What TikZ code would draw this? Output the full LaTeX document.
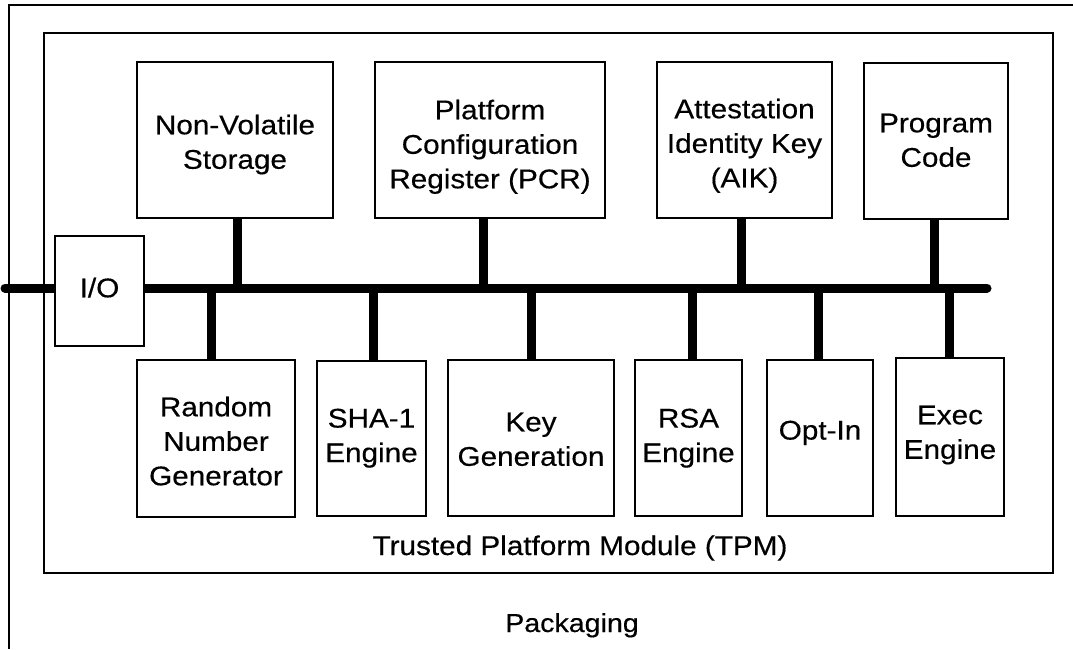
\documentclass[tikz,border=0pt]{standalone}
\usepackage{fontspec}
\setmainfont{Liberation Sans}[FakeStretch=1.1,FakeBold=0.4]
\usetikzlibrary{fit}
\begin{document}
\begin{tikzpicture}[x=1pt,y=-1pt,
  blk/.style={draw, line width=1.5pt, fill=white, inner sep=0pt},
  txt/.style={inner sep=0pt, align=center, anchor=north,
              font=\fontsize{27}{34.5}\selectfont},
  busline/.style={line width=9pt},
  lbl/.style={font=\fontsize{27}{34.5}\selectfont, inner sep=0pt, anchor=base}]
\useasboundingbox (0,0) rectangle (1073,649);
% packaging frame
\coordinate (pkgBL) at (9,649);
\coordinate (pkgTL) at (9,5);
\coordinate (pkgTR) at (1073,5);
\draw[line width=1.5pt] (pkgBL) -- (pkgTL) -- (pkgTR);
% TPM box
\node[draw, line width=1.3pt, inner sep=0pt, fit={(44,33) (1053,573)}] (tpm) {};
% bus
\coordinate (busL) at (5,288);
\coordinate (busR) at (987,288);
\draw[busline, line cap=round] (busL) -- (busR);
% connector points on bus
\coordinate (cNV)  at (237,288);
\coordinate (cPCR) at (483,288);
\coordinate (cAIK) at (741,288);
\coordinate (cPC)  at (934,288);
\coordinate (cRNG) at (211,288);
\coordinate (cSHA) at (373,288);
\coordinate (cKG)  at (531,288);
\coordinate (cRSA) at (692,288);
\coordinate (cOI)  at (818,288);
\coordinate (cEX)  at (949,288);
% top boxes
\node[blk, fit={(137,62) (333,218)}] (nv) {};
\node[blk, fit={(375,62) (605,218)}] (pcr) {};
\node[blk, fit={(657,62) (832,218)}] (aik) {};
\node[blk, fit={(864,63) (1008,219)}] (pc) {};
% I/O
\node[blk, fit={(55,236) (144,346)}] (io) {};
% bottom boxes
\node[blk, fit={(137,360) (295,517)}] (rng) {};
\node[blk, fit={(317,361) (426,516)}] (sha) {};
\node[blk, fit={(448,360) (614,516)}] (kg) {};
\node[blk, fit={(635,360) (742,516)}] (rsa) {};
\node[blk, fit={(767,360) (873,516)}] (oi) {};
\node[blk, fit={(896,358) (1004,516)}] (ex) {};
% box texts
\node[txt] (nvT)  at (nv.center |- 0,114.5) {Non-Volatile\\Storage};
\node[txt] (pcrT) at (pcr.center |- 0,99.5) {Platform\\Configuration\\Register (PCR)};
\node[txt] (aikT) at (aik.center |- 0,98.5) {Attestation\\Identity Key\\(AIK)};
\node[txt] (pcT)  at (pc.center |- 0,113.5) {Program\\Code};
\node[txt] (ioT)  at (io.center |- 0,277.5) {I/O};
\node[txt] (rngT) at (rng.center |- 0,396.5) {Random\\Number\\Generator};
\node[txt] (shaT) at (sha.center |- 0,408.5) {SHA-1\\Engine};
\node[txt] (kgT)  at (kg.center |- 0,412.5) {Key\\Generation};
\node[txt] (rsaT) at (rsa.center |- 0,408.5) {RSA\\Engine};
\node[txt] (oiT)  at (oi.center |- 0,420.5) {Opt-In};
\node[txt] (exT)  at (ex.center |- 0,405.5) {Exec\\Engine};
% connectors
\draw[busline] (cNV) -- (cNV |- nv.south);
\draw[busline] (cPCR) -- (cPCR |- pcr.south);
\draw[busline] (cAIK) -- (cAIK |- aik.south);
\draw[busline] (cPC) -- (cPC |- pc.south);
\draw[busline] (cRNG) -- (cRNG |- rng.north);
\draw[busline] (cSHA) -- (cSHA |- sha.north);
\draw[busline] (cKG) -- (cKG |- kg.north);
\draw[busline] (cRSA) -- (cRSA |- rsa.north);
\draw[busline] (cOI) -- (cOI |- oi.north);
\draw[busline] (cEX) -- (cEX |- ex.north);
% labels
\node[lbl] (tpmlbl) at (580,555) {Trusted Platform Module (TPM)};
\node[lbl, font=\fontsize{26}{30}\selectfont] (pkglbl) at (572,632) {Packaging};
\end{tikzpicture}
\end{document}
